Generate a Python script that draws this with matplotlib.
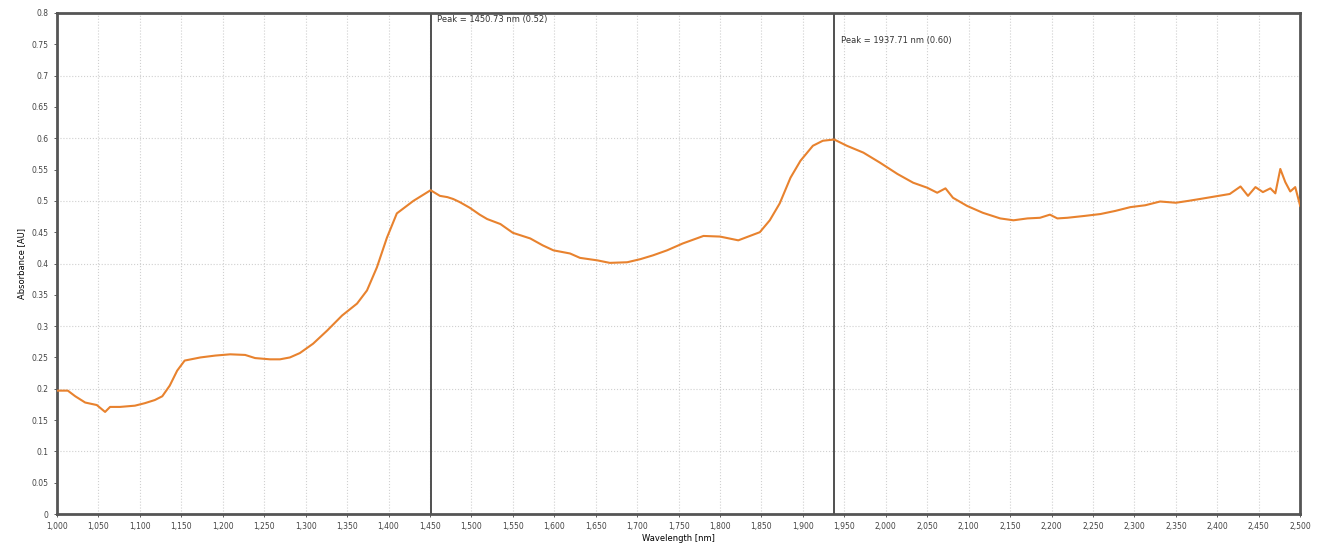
import numpy as np
import matplotlib
matplotlib.use("Agg")
import matplotlib.pyplot as plt
from matplotlib.ticker import FuncFormatter, MultipleLocator

# spectrum
wavelength = [1000, 1013, 1022, 1034, 1048, 1058, 1064, 1076, 1094, 1106, 1118, 1127,
              1136, 1145, 1154, 1173, 1191, 1209, 1227, 1239, 1257, 1269, 1281, 1293,
              1309, 1326, 1344, 1362, 1374, 1386, 1398, 1410, 1430, 1450.73, 1462, 1471,
              1478, 1486, 1498, 1510, 1519, 1535, 1550, 1571, 1586, 1599, 1619, 1631,
              1652, 1667, 1688, 1704, 1719, 1736, 1755, 1780, 1800, 1822, 1836, 1848,
              1860, 1872, 1885, 1897, 1912, 1924, 1937.71, 1953, 1973, 1993, 2014, 2033,
              2050, 2062, 2072, 2081, 2098, 2117, 2138, 2154, 2171, 2186, 2198, 2207,
              2219, 2240, 2259, 2277, 2295, 2313, 2331, 2350, 2365, 2379, 2397, 2415,
              2428, 2437, 2446, 2455, 2464, 2470, 2476, 2482, 2488, 2494, 2500]
absorbance = [0.197, 0.197, 0.188, 0.178, 0.174, 0.163, 0.171, 0.171, 0.173, 0.177, 0.182, 0.188,
              0.205, 0.229, 0.245, 0.250, 0.253, 0.255, 0.254, 0.249, 0.247, 0.247, 0.250, 0.257,
              0.272, 0.293, 0.317, 0.336, 0.357, 0.394, 0.441, 0.480, 0.500, 0.517, 0.508, 0.506,
              0.503, 0.498, 0.489, 0.478, 0.471, 0.463, 0.449, 0.440, 0.429, 0.421, 0.416, 0.409,
              0.405, 0.401, 0.402, 0.407, 0.413, 0.421, 0.432, 0.444, 0.443, 0.437, 0.444, 0.450,
              0.469, 0.496, 0.537, 0.564, 0.588, 0.596, 0.598, 0.588, 0.577, 0.561, 0.543, 0.529,
              0.521, 0.513, 0.520, 0.505, 0.492, 0.481, 0.472, 0.469, 0.472, 0.473, 0.478, 0.472,
              0.473, 0.476, 0.479, 0.484, 0.490, 0.493, 0.499, 0.497, 0.500, 0.503, 0.507, 0.511,
              0.523, 0.508, 0.522, 0.514, 0.520, 0.512, 0.551, 0.530, 0.515, 0.522, 0.492]

peaks = [1450.73, 1937.71]
peak_vals = [0.52, 0.60]
peak_label_y = [0.785, 0.752]

fig = plt.figure(figsize=(13.2, 5.53), dpi=100)
ax = fig.add_axes([0.0432, 0.0705, 0.9418, 0.906])

ax.plot(wavelength, absorbance, color='#e8822e', lw=1.5, zorder=3)

for p, v, ty in zip(peaks, peak_vals, peak_label_y):
    ax.axvline(p, color='#505050', lw=1.4, zorder=2)
    ax.text(p + 8, ty, 'Peak = %.2f nm (%.2f)' % (p, v), fontsize=6, color='#333333')

ax.set_xlim(1000, 2500)
ax.set_ylim(0, 0.8)
ax.xaxis.set_major_locator(MultipleLocator(50))
ax.yaxis.set_major_locator(MultipleLocator(0.05))
ax.xaxis.set_major_formatter(FuncFormatter(lambda v, pos: '{:,.0f}'.format(v)))
ax.yaxis.set_major_formatter(FuncFormatter(lambda v, pos: ('%.2f' % v).rstrip('0').rstrip('.')))
ax.tick_params(labelsize=5.5, length=2.5, width=0.6, colors='#444444')

ax.grid(axis='x', color='#d0d0d0', ls=':', lw=0.8)
for yv in np.arange(0.1, 0.8, 0.1):
    ax.axhline(yv, color='#d0d0d0', ls=':', lw=0.8, zorder=0)

for s in ax.spines.values():
    s.set_color('#555555')
    s.set_linewidth(2)

ax.set_xlabel('Wavelength [nm]', fontsize=6, labelpad=2)
ax.set_ylabel('Absorbance [AU]', fontsize=6, labelpad=4)

fig.savefig('out.png', dpi=100)
